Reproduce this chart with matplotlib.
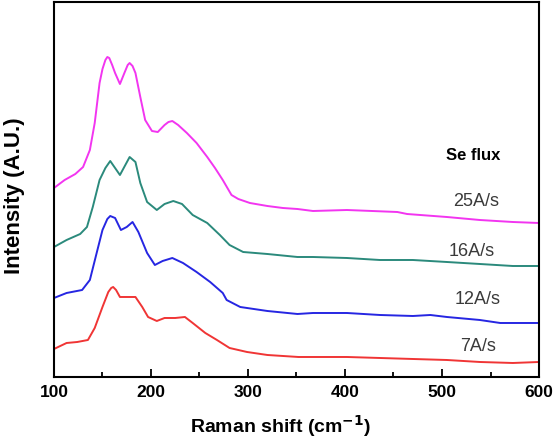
import matplotlib.pyplot as plt
from matplotlib.ticker import MultipleLocator

plt.rcParams['font.family'] = ['Liberation Sans', 'DejaVu Sans']

# values (arbitrary intensity units)
shift_25 = [100, 111, 122, 130, 137, 142, 147, 150, 153, 155, 157, 160, 163, 168, 173, 176, 178, 181,
            184, 189, 194, 201, 207, 214, 218, 222, 228, 237, 247, 258, 266, 274, 283, 290, 302, 320,
            336, 351, 367, 402, 454, 464, 505, 539, 573, 600]
int_25 = [189, 197, 203, 210, 227, 254, 294, 308, 317, 320, 319, 312, 304, 293, 305, 312, 314, 311,
          304, 280, 257, 246, 245, 252, 255, 256, 252, 244, 234, 220, 209, 197, 182, 178, 174, 171,
          169, 168, 166, 167, 165, 163, 160, 157, 155, 154]

shift_16 = [100, 113, 127, 134, 140, 147, 153, 158, 168, 178, 184, 189, 196, 206, 214, 223, 232, 243,
            258, 271, 281, 295, 320, 351, 367, 402, 436, 470, 505, 539, 573, 600]
int_16 = [130, 137, 143, 150, 170, 197, 209, 216, 202, 220, 215, 194, 175, 167, 173, 176, 173, 162,
          154, 142, 132, 125, 123, 120, 120, 119, 117, 117, 115, 113, 111, 111]

shift_12 = [100, 113, 129, 137, 144, 150, 155, 158, 163, 169, 175, 181, 187, 196, 204, 212, 222, 233,
            247, 261, 274, 278, 292, 320, 351, 367, 402, 436, 470, 488, 505, 539, 560, 600]
int_12 = [79, 84, 87, 97, 124, 147, 158, 161, 159, 147, 150, 155, 145, 124, 112, 116, 119, 114,
          105, 95, 84, 77, 70, 66, 63, 64, 64, 62, 61, 62, 60, 57, 54, 54]

shift_7 = [100, 113, 124, 135, 142, 150, 156, 159, 161, 164, 168, 176, 184, 191, 197, 206, 214, 225,
           235, 243, 256, 268, 281, 299, 320, 352, 367, 402, 436, 470, 505, 539, 573, 600]
int_7 = [28, 34, 35, 37, 49, 70, 85, 89, 90, 87, 80, 80, 80, 70, 60, 56, 59, 59,
         60, 54, 44, 37, 29, 25, 22, 20, 20, 20, 19, 18, 17, 15, 14, 15]

labels = ['25A/s', '16A/s', '12A/s', '7A/s']

fig = plt.figure(figsize=(5.53, 4.38), dpi=100)
ax = fig.add_axes([0.0976, 0.1393, 0.8771, 0.8561])

ax.plot(shift_25, int_25, color='#f235f0', lw=1.4)
ax.plot(shift_16, int_16, color='#2b8a7c', lw=1.4)
ax.plot(shift_12, int_12, color='#2626e2', lw=1.4)
ax.plot(shift_7, int_7, color='#f03535', lw=1.4)

# labels next to the curves
ax.text(532, 222, 'Se flux', fontsize=12, fontweight='bold', ha='center', va='center')
ax.text(535, 175, labels[0], fontsize=13, color='#3a3a3a', ha='center', va='center')
ax.text(531, 125, labels[1], fontsize=13, color='#3a3a3a', ha='center', va='center')
ax.text(537, 77, labels[2], fontsize=13, color='#3a3a3a', ha='center', va='center')
ax.text(537, 30, labels[3], fontsize=13, color='#3a3a3a', ha='center', va='center')

ax.set_xlim(100, 600)
ax.set_ylim(0, 375)
ax.xaxis.set_major_locator(MultipleLocator(100))
ax.xaxis.set_minor_locator(MultipleLocator(50))
ax.tick_params(axis='x', which='major', direction='in', length=6, width=1.3,
               labelsize=12.5, pad=6)
ax.tick_params(axis='x', which='minor', direction='in', length=3.5, width=1.3)
ax.set_yticks([])
for lbl in ax.get_xticklabels():
    lbl.set_fontweight('bold')
for s in ax.spines.values():
    s.set_linewidth(1.5)

ax.set_xlabel('Raman shift (cm$^{\\mathbf{-1}}$)', fontsize=14, fontweight='bold')
ax.set_ylabel('Intensity (A.U.)', fontsize=16, fontweight='bold')
ax.xaxis.set_label_coords(0.466, -0.095)
ax.yaxis.set_label_coords(-0.06, 0.483)

fig.savefig('out.png', dpi=100)
